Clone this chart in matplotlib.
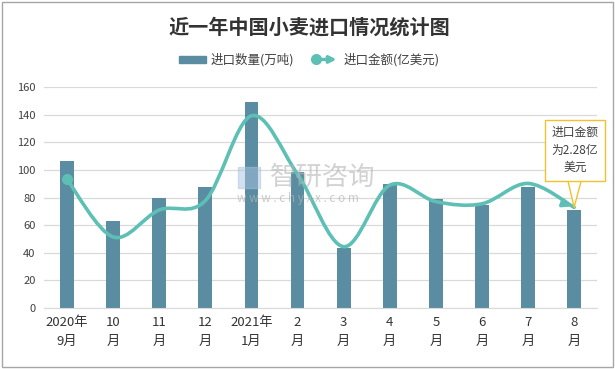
import numpy as np
import matplotlib.pyplot as plt
from matplotlib.path import Path
from matplotlib.patches import PathPatch, Patch, FancyArrowPatch
from matplotlib.lines import Line2D
from matplotlib.legend_handler import HandlerBase

plt.rcParams['font.family'] = ['Noto Sans CJK SC', 'DejaVu Sans']

months = ['2020年\n9月', '10\n月', '11\n月', '12\n月', '2021年\n1月', '2\n月',
          '3\n月', '4\n月', '5\n月', '6\n月', '7\n月', '8\n月']
volume = [106.6, 63, 79.8, 87.7, 149.3, 98.3, 43.7, 89.9, 79.1, 75, 88, 71.2]   # 万吨
amount = [2.91, 1.61, 2.22, 2.43, 4.35, 3.03, 1.39, 2.78, 2.41, 2.36, 2.82, 2.28]  # 亿美元

bar_color = '#5A8CA2'
line_color = '#5EC0B5'

fig = plt.figure(figsize=(6.15, 3.69), dpi=100)
ax = fig.add_axes([0.0715, 0.165, 0.8995, 0.599])
ax2 = ax.twinx()

x = np.arange(len(months))
ax.bar(x, volume, width=0.3, color=bar_color, zorder=2)
ax.set_ylim(0, 160)
ax.set_yticks(range(0, 161, 20))
ax.set_xlim(-0.5, len(months) - 0.5)
ax.set_xticks(x)
ax.set_xticklabels(months, fontsize=9.5, color='#333333', linespacing=1.5)
ax.tick_params(axis='y', labelsize=8, colors='#404040', length=0, pad=6)
ax.tick_params(axis='x', length=0, pad=6)
ax.grid(axis='y', color='#D9D9D9', linewidth=0.9, zorder=0)
for s in ['top', 'right', 'left']:
    ax.spines[s].set_visible(False)
ax.spines['bottom'].set_color('#D9D9D9')

# smoothed line on hidden secondary axis (0-5)
ax2.set_ylim(0, 5)
ax2.axis('off')
pts = np.column_stack([x, amount])
t = 1 / 6
verts = [pts[0]]
codes = [Path.MOVETO]
for i in range(len(pts) - 1):
    p0 = pts[max(i - 1, 0)]
    p1 = pts[i]
    p2 = pts[i + 1]
    p3 = pts[min(i + 2, len(pts) - 1)]
    verts += [p1 + (p2 - p0) * t, p2 - (p3 - p1) * t, p2]
    codes += [Path.CURVE4] * 3
ax2.add_patch(PathPatch(Path(verts, codes), fill=False, edgecolor=line_color,
                        linewidth=2.6, capstyle='round', zorder=3))
ax2.plot(x[0], amount[0], 'o', color=line_color, markersize=7, zorder=4)
ax2.annotate('', xy=(x[-1], amount[-1]), xytext=(x[-1] - 0.3, amount[-1] + 0.12),
             arrowprops=dict(arrowstyle='-|>', color=line_color, lw=2.4,
                             mutation_scale=12), zorder=4)

# callout
ax2.annotate('进口金额\n为2.28亿\n美元', xy=(x[-1], amount[-1]), xytext=(11.02, 3.57),
             ha='center', va='center', fontsize=8.5, color='#404040', linespacing=1.45,
             bbox=dict(boxstyle='square,pad=0.55', fc='white', ec='#F2C12E', lw=1),
             arrowprops=dict(arrowstyle='wedge,tail_width=1.1', fc='white',
                             ec='#F2C12E', lw=1, shrinkA=0, shrinkB=0), zorder=5)

# watermark
fig.patches.append(plt.Rectangle((0.387, 0.4905), 0.036, 0.057, transform=fig.transFigure,
                                 color='#A9C4DF', alpha=0.5))
fig.text(0.439, 0.52, '智研咨询', fontsize=19, color='#B5B5B5', alpha=0.6,
         va='center', ha='left')
fig.text(0.385, 0.463, 'w w w . c h y x x . c o m', fontsize=8.5, color='#B5B5B5',
         alpha=0.7, va='center', ha='left')

fig.text(0.503, 0.927, '近一年中国小麦进口情况统计图', ha='center', va='center',
         fontsize=14.5, fontweight='bold', color='#333333')


class ArrowHandler(HandlerBase):
    def create_artists(self, legend, orig_handle, xd, yd, width, height, fontsize, trans):
        y = height / 2 - yd
        line = FancyArrowPatch((-xd + 3, y), (-xd + width, y), arrowstyle='-|>',
                               mutation_scale=10, color=line_color, lw=2.4,
                               transform=trans)
        dot = Line2D([-xd + 3], [y], marker='o', color=line_color, markersize=7,
                     transform=trans)
        return [line, dot]


handles = [Patch(color=bar_color), Line2D([], [], color=line_color)]
fig.legend(handles, ['进口数量(万吨)', '进口金额(亿美元)'], loc='center',
           bbox_to_anchor=(0.503, 0.837), ncol=2, frameon=False, fontsize=9,
           handlelength=2.2, handleheight=0.5, columnspacing=1.4, handletextpad=0.35,
           labelcolor='#404040', handler_map={Line2D: ArrowHandler()})

fig.patches.append(plt.Rectangle((0.003, 0.005), 0.994, 0.99, transform=fig.transFigure,
                                 fill=False, ec='#A6A6A6', lw=1))

fig.savefig('out.png', dpi=100)
